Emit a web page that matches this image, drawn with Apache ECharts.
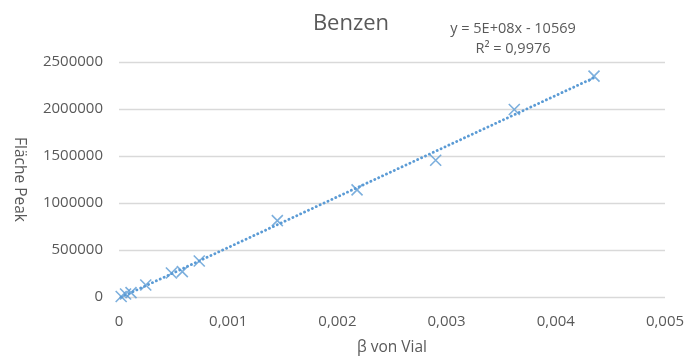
<!DOCTYPE html>
<html><head><meta charset="utf-8">
<script src="https://cdn.jsdelivr.net/npm/echarts@6/dist/echarts.min.js"></script>
<style>html,body{margin:0;padding:0;background:#fff}#c{width:689px;height:357px}</style>
</head><body><div id="c"></div>
<script>
const xValues = [0.00002, 0.00006, 0.00011, 0.000245, 0.00048, 0.00058, 0.000735, 0.00145, 0.00218, 0.0029, 0.00362, 0.00435];
const yValues = [5000, 32000, 46000, 128000, 255000, 270000, 383000, 812000, 1140000, 1455000, 1995000, 2350000];
const xTicks = [0, 0.001, 0.002, 0.003, 0.004, 0.005];
const yTicks = [0, 500000, 1000000, 1500000, 2000000, 2500000];
const titleText = 'Benzen';
const equationText = 'y = 5E+08x - 10569\nR² = 0,9976';
const xName = 'β von Vial';
const yName = 'Fläche Peak';

// linear least-squares trendline computed from the data
const n = xValues.length;
const mx = xValues.reduce((a,b)=>a+b,0)/n, my = yValues.reduce((a,b)=>a+b,0)/n;
let sxy=0, sxx=0;
for (let i=0;i<n;i++){ sxy+=(xValues[i]-mx)*(yValues[i]-my); sxx+=(xValues[i]-mx)**2; }
const slope = sxy/sxx, icpt = my - slope*mx;
const xmin = Math.min(...xValues), xmax = Math.max(...xValues);
const trend = [[xmin, slope*xmin+icpt],[xmax, slope*xmax+icpt]];

const font = '"Open Sans", "Liberation Sans", sans-serif';
const txt = '#595959';
const blue = '#5B9BD5';
const chart = echarts.init(document.getElementById('c'));
chart.setOption({
  animation:false,
  title:{text:titleText, left:346, top:8, textAlign:'center',
    textStyle:{fontFamily:font, fontSize:22, fontWeight:'normal', color:txt}},
  graphic:[{type:'text', x:513, y:19, style:{text:equationText, textAlign:'center',
    fill:txt, font:'14.5px '+font, lineHeight:20, align:'center'}}],
  grid:{left:119, right:24, top:62, bottom:60, outerBoundsMode:'none', containLabel:false},
  xAxis:{type:'value', min:xTicks[0], max:xTicks[xTicks.length-1], interval:0.001,
    name:xName, nameLocation:'middle', nameGap:43,
    nameTextStyle:{fontFamily:font, fontSize:15.5, color:txt},
    axisLine:{show:false}, axisTick:{show:false}, splitLine:{show:false},
    axisLabel:{fontFamily:font, fontSize:15, color:txt, margin:17,
      formatter:v=>v===0?'0':String(+v.toFixed(3)).replace('.',',')}},
  yAxis:{type:'value', min:yTicks[0], max:yTicks[yTicks.length-1], interval:500000,
    name:yName, nameLocation:'middle', nameGap:92, nameRotate:-90,
    nameTextStyle:{fontFamily:font, fontSize:15.5, color:txt},
    axisLine:{show:false}, axisTick:{show:false},
    splitLine:{lineStyle:{color:'#d9d9d9', width:1.3}},
    axisLabel:{fontFamily:font, fontSize:15, color:txt, margin:16, formatter:v=>String(v)}},
  series:[
    {type:'line', data:trend, symbol:'none', silent:true,
      lineStyle:{color:blue, width:2.8, type:[0.1,4.2], cap:'round'}, z:2},
    {type:'scatter', data:xValues.map((x,i)=>[x,yValues[i]]),
      symbol:'path://M0,0L10,10M10,0L0,10', symbolSize:11,
      itemStyle:{color:'none', borderColor:blue, borderWidth:1.6}, z:3}
  ]
});
</script></body></html>
